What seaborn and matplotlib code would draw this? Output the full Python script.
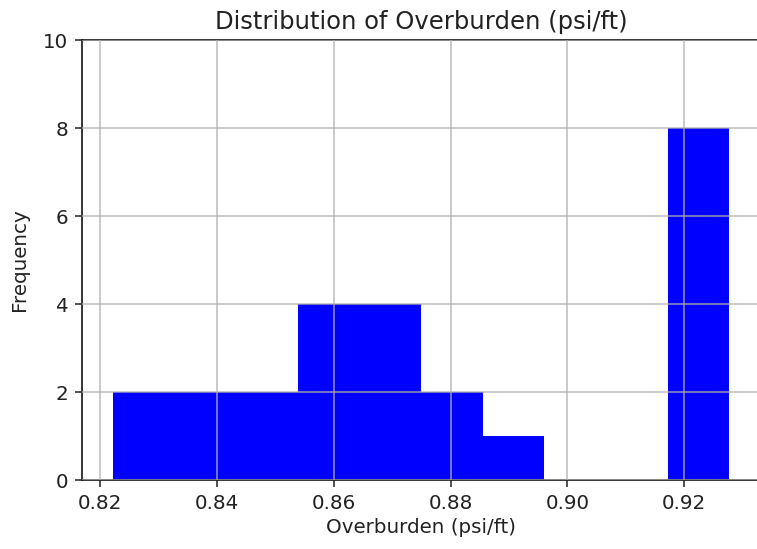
import numpy as np
import matplotlib
matplotlib.use("Agg")
import matplotlib.pyplot as plt
import seaborn as sns

# Histogram data (10 equal-width bins)
bin_edges = [0.8222, 0.83275, 0.8433, 0.85385, 0.8644, 0.87495,
             0.8855, 0.89605, 0.9066, 0.91715, 0.9277]
counts = [2, 2, 2, 4, 4, 2, 1, 0, 0, 8]
x_ticks = [0.82, 0.84, 0.86, 0.88, 0.90, 0.92]
y_ticks = [0, 2, 4, 6, 8, 10]

centers = [(a + b) / 2 for a, b in zip(bin_edges[:-1], bin_edges[1:])]

plt.rcParams['font.family'] = ['DejaVu Sans']
plt.rcParams['axes.linewidth'] = 1.1

fig = plt.figure(figsize=(7.57, 5.49), dpi=100)
ax = fig.add_axes([82 / 757, (549 - 480) / 549, (760 - 82) / 757, 440 / 549])

sns.histplot(x=centers, weights=counts, bins=bin_edges, color='#0000ff',
             alpha=1.0, linewidth=0, edgecolor='none', ax=ax)

span = bin_edges[-1] - bin_edges[0]
ax.set_xlim(bin_edges[0] - 0.05 * span, bin_edges[-1] + 0.05 * span)
ax.set_ylim(0, 10)
ax.set_xticks(x_ticks)
ax.set_xticklabels([f"{t:.2f}" for t in x_ticks])
ax.set_yticks(y_ticks)
ax.tick_params(labelsize=14.3, length=5, width=1.1, pad=5, colors='#222222')
ax.set_axisbelow(False)
ax.grid(True, color='#b0b0b0', linewidth=1.1, alpha=0.85)

ax.set_title("Distribution of Overburden (psi/ft)", fontsize=17.5, color='#222222', pad=8)
ax.set_xlabel("Overburden (psi/ft)", fontsize=14.3, color='#222222', labelpad=4)
ax.set_ylabel("Frequency", fontsize=14.3, color='#222222', labelpad=10)

fig.savefig("out.png", dpi=100)
